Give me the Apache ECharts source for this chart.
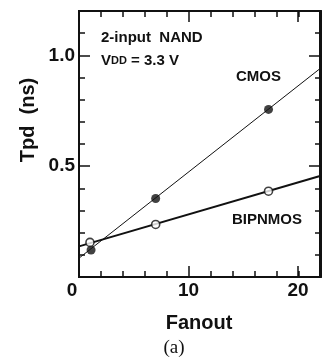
<!DOCTYPE html>
<html>
<head>
<meta charset="utf-8">
<script src="https://cdn.jsdelivr.net/npm/echarts@6/dist/echarts.min.js"></script>
<style>
html,body{margin:0;padding:0;background:#fff;}
#c{width:323px;height:359px;}
</style>
</head>
<body>
<div id="c"></div>
<script>
// ---- data ----
const fanoutPts = [1.1, 7.0, 17.3];
const cmosTpd = [0.122, 0.354, 0.756];
const bipFanoutPts = [1.0, 7.0, 17.3];
const bipTpd = [0.156, 0.237, 0.387];
const cmosFitX = [0, 22];
const cmosFitY = [0.085, 0.94];
const bipFitX = [0, 22];
const bipFitY = [0.138, 0.456];
const xMajorLabels = [0, 10, 20];
const yMajorLabels = [0.5, 1.0];

const ink = '#111';
const F = '"Liberation Sans", Arial, Helvetica, sans-serif';

const zip = (a, b) => a.map((v, i) => [v, b[i]]);

function axisCommon(major, showLabel, kind) {
  return {
    axisLine: { show: true, onZero: false, lineStyle: { color: ink, width: 2 } },
    axisTick: { show: true, inside: true, length: major ? 11 : 6, lineStyle: { color: ink, width: 1.5 } },
    splitLine: { show: false },
    axisLabel: showLabel ? {
      show: true, color: ink, fontFamily: F, fontWeight: 'bold', fontSize: 19, margin: 4,
      rich: { z: { fontFamily: F, fontWeight: 'bold', fontSize: 19, color: ink, padding: [0, 14, 0, 0] } },
      formatter: kind === 'x'
        ? (v) => (v === 0 ? '{z|0}' : (xMajorLabels.includes(v) ? String(v) : ''))
        : (v) => (yMajorLabels.some(t => Math.abs(t - v) < 1e-9) ? v.toFixed(1) : '')
    } : { show: false }
  };
}

const grids = [
  { left: 79, top: 11, width: 242, height: 266 },
  { left: 79, top: 11, width: 242, height: 266 }
];

const xAxis = [
  Object.assign({ type: 'value', gridIndex: 0, position: 'bottom', min: 0, max: 22, interval: 10 }, axisCommon(true, true, 'x')),
  Object.assign({ type: 'value', gridIndex: 0, position: 'top', min: 0, max: 22, interval: 10 }, axisCommon(true, false, 'x')),
  Object.assign({ type: 'value', gridIndex: 1, position: 'bottom', min: 0, max: 22, interval: 2 }, axisCommon(false, false, 'x')),
  Object.assign({ type: 'value', gridIndex: 1, position: 'top', min: 0, max: 22, interval: 2 }, axisCommon(false, false, 'x'))
];
const yAxis = [
  Object.assign({ type: 'value', gridIndex: 0, position: 'left', min: 0, max: 1.2, interval: 0.5 }, axisCommon(true, true, 'y')),
  Object.assign({ type: 'value', gridIndex: 0, position: 'right', min: 0, max: 1.2, interval: 0.5 }, axisCommon(true, false, 'y')),
  Object.assign({ type: 'value', gridIndex: 1, position: 'left', min: 0, max: 1.2, interval: 0.1 }, axisCommon(false, false, 'y')),
  Object.assign({ type: 'value', gridIndex: 1, position: 'right', min: 0, max: 1.2, interval: 0.1 }, axisCommon(false, false, 'y'))
];

const series = [
  { type: 'line', xAxisIndex: 0, yAxisIndex: 0, data: zip(cmosFitX, cmosFitY), showSymbol: false, symbol: 'none',
    lineStyle: { color: ink, width: 1 }, silent: true, clip: true, z: 2 },
  { type: 'line', xAxisIndex: 0, yAxisIndex: 0, data: zip(bipFitX, bipFitY), showSymbol: false, symbol: 'none',
    lineStyle: { color: ink, width: 2 }, silent: true, clip: true, z: 2 },
  { type: 'scatter', xAxisIndex: 0, yAxisIndex: 0, data: zip(fanoutPts, cmosTpd), symbol: 'circle', symbolSize: 9,
    itemStyle: { color: ink }, z: 5 },
  { type: 'scatter', xAxisIndex: 0, yAxisIndex: 0, data: zip(bipFanoutPts, bipTpd), symbol: 'circle', symbolSize: 8,
    itemStyle: { color: '#fff', borderColor: ink, borderWidth: 1.6 }, z: 5 }
];

const txt = (x, y, text, size, extra) => ({
  type: 'text', x: x, y: y, z: 10,
  style: Object.assign({ text: text, fill: ink, font: 'bold ' + size + 'px ' + F, textAlign: 'left', textVerticalAlign: 'middle' }, extra || {})
});

const graphic = [
  txt(101, 38, '2-input  NAND', 15),
  {
    type: 'text', x: 101, y: 61, z: 10,
    style: {
      text: '{a|V}{b|DD}{a| = 3.3 V}', fill: ink, textVerticalAlign: 'middle',
      rich: {
        a: { fontFamily: F, fontWeight: 'bold', fontSize: 15, fill: ink },
        b: { fontFamily: F, fontWeight: 'bold', fontSize: 11, fill: ink }
      }
    }
  },
  txt(236, 77, 'CMOS', 15),
  txt(232, 220, 'BIPNMOS', 15),
  txt(199, 323, 'Fanout', 20, { textAlign: 'center' }),
  { type: 'text', x: 174, y: 348, z: 10,
    style: { text: '(a)', fill: ink, font: '19px "Liberation Serif", "Times New Roman", serif', textAlign: 'center', textVerticalAlign: 'middle' } },
  { type: 'text', x: 28, y: 120, rotation: Math.PI / 2, z: 10,
    style: { text: 'Tpd  (ns)', fill: ink, font: 'bold 20px ' + F, textAlign: 'center', textVerticalAlign: 'middle' } }
];

const chart = echarts.init(document.getElementById('c'), null, { renderer: 'canvas' });
chart.setOption({
  backgroundColor: '#fff',
  animation: false,
  grid: grids,
  xAxis: xAxis,
  yAxis: yAxis,
  series: series,
  graphic: graphic
});
</script>
</body>
</html>
